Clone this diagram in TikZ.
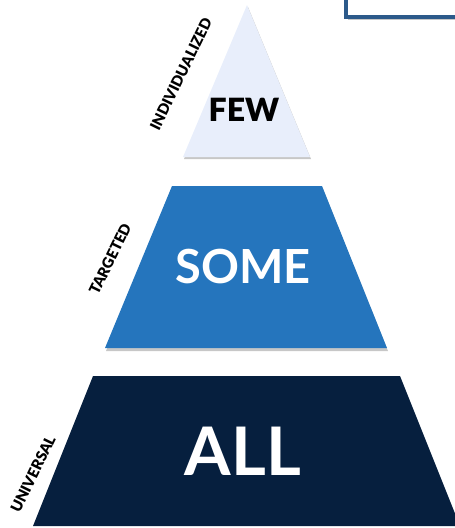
\documentclass[tikz,border=0pt]{standalone}
\usepackage{fontspec}
\setmainfont{Lato}
\newfontfamily\latonoir{Lato Black}
\usepackage{tikz}
\usetikzlibrary{calc,positioning}
\definecolor{bleu-pale}{RGB}{232,238,251}
\definecolor{bleu-moyen}{RGB}{37,117,189}
\definecolor{bleu-nuit}{RGB}{6,31,62}
\definecolor{bleu-cadre}{RGB}{44,90,138}
\tikzstyle{etage-std}=[draw=none]
\tikzstyle{ombre-std}=[fill=black,opacity=0.22]
\tikzstyle{mot-std}=[inner sep=0pt]
\tikzstyle{rang-std}=[font=\latonoir\fontsize{15}{15}\selectfont,rotate=64,inner sep=0pt]

\begin{document}
\begin{tikzpicture}[x=1pt,y=-1pt]
\useasboundingbox (0,0) rectangle (455,528);
\clip (0,0) rectangle (455,528);

% cadre en haut a droite
\fill[ombre-std] (348,-10) rectangle (472,20);
\draw[bleu-cadre,line width=3.5pt,fill=white] (346,-10) rectangle (470,17);

% sommet
\fill[ombre-std] (184,159) -- (248,7) -- (311,159) -- cycle;
\fill[etage-std,bleu-pale] (183,157) -- (247,5) -- (310,157) -- cycle;
% milieu
\fill[ombre-std] (106,351) -- (173,189) -- (323,189) -- (388,351) -- cycle;
\fill[etage-std,bleu-moyen] (105,348) -- (172,186) -- (322,186) -- (387,348) -- cycle;
% base
\fill[etage-std,bleu-nuit] (33,526) -- (93,376) -- (400,376) -- (460,526) -- cycle;

\node[mot-std,font=\latonoir\fontsize{32}{32}\selectfont] (few) at (244,110) {FEW};
\node[mot-std,white,font=\bfseries\fontsize{47}{47}\selectfont] (some) at (243,267) {SOME};
\node[mot-std,white,font=\bfseries\fontsize{67}{67}\selectfont] (all) at (243,451) {ALL};

\node[rang-std] (indiv) at (181,74) {INDIVIDUALIZED};
\node[rang-std] (target) at (110,259) {TARGETED};
\node[rang-std] (univ) at (33,474) {UNIVERSAL};
\end{tikzpicture}
\end{document}
